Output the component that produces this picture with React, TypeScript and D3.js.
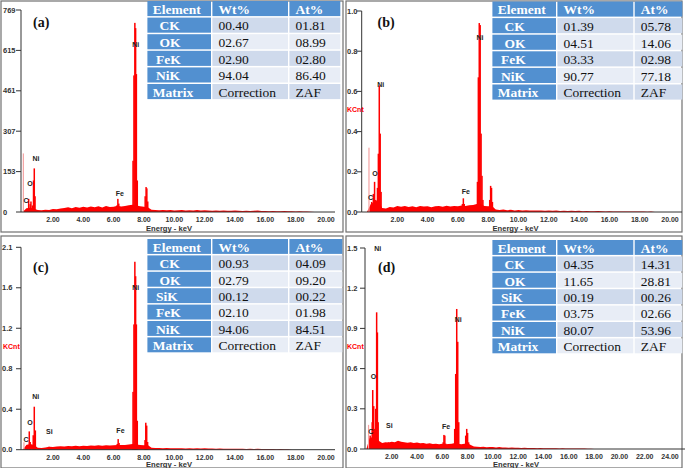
import React, { useEffect, useRef } from "react";
import * as d3 from "d3";

// background counts, one value every 0.25 keV from 0 keV
const bgA = [0, 14, 16, 12, 8, 7, 9, 8, 11, 10, 13, 15, 18, 14, 19, 16, 20, 17, 21, 18, 22, 17, 23, 19, 20, 24, 21, 23, 26, 28, 25, 22, 20, 18, 9, 8, 7, 8, 7, 8, 6, 7, 8, 6, 7, 6, 8, 6, 7, 6, 5, 6, 5, 6, 5, 5, 6, 5, 4, 5, 4, 5, 6, 4, 4, 3, 4, 3, 3, 4, 3, 3, 2, 3, 2, 2, 1, 0];
const bgB = [0, 0.04, 0.05, 0.06, 0.02, 0.018, 0.025, 0.022, 0.03, 0.026, 0.03, 0.025, 0.028, 0.024, 0.03, 0.027, 0.029, 0.024, 0.028, 0.03, 0.026, 0.031, 0.027, 0.03, 0.028, 0.032, 0.03, 0.033, 0.035, 0.04, 0.04, 0.03, 0.028, 0.03, 0.012, 0.01, 0.012, 0.009, 0.011, 0.008, 0.01, 0.008, 0.009, 0.007, 0.008, 0.007, 0.008, 0.006, 0.007, 0.006, 0.007, 0.005, 0.006, 0.005, 0.006, 0.005, 0.006, 0.004, 0.005, 0.004, 0.004, 0.005, 0.004, 0.003, 0.004, 0.003, 0.003, 0.002, 0.003, 0.002, 0.002, 0.003, 0.002, 0.002, 0.001, 0.002, 0];
const bgC = [0, 0.05, 0.06, 0.05, 0.02, 0.018, 0.022, 0.03, 0.028, 0.032, 0.035, 0.033, 0.038, 0.035, 0.04, 0.037, 0.042, 0.039, 0.044, 0.04, 0.045, 0.042, 0.047, 0.043, 0.046, 0.05, 0.048, 0.05, 0.055, 0.06, 0.055, 0.05, 0.045, 0.05, 0.02, 0.018, 0.017, 0.016, 0.018, 0.015, 0.016, 0.014, 0.015, 0.013, 0.014, 0.012, 0.014, 0.013, 0.015, 0.012, 0.013, 0.011, 0.012, 0.01, 0.011, 0.01, 0.011, 0.009, 0.01, 0.008, 0.009, 0.008, 0.009, 0.007, 0.008, 0.006, 0.007, 0.005, 0.006, 0.005, 0.004, 0];
const bgD = [0, 0.08, 0.09, 0.1, 0.06, 0.045, 0.05, 0.048, 0.055, 0.05, 0.062, 0.055, 0.05, 0.046, 0.05, 0.044, 0.048, 0.042, 0.045, 0.04, 0.043, 0.038, 0.04, 0.036, 0.04, 0.035, 0.037, 0.04, 0.045, 0.04, 0.035, 0.04, 0.042, 0.03, 0.018, 0.016, 0.015, 0.016, 0.013, 0.015, 0.014, 0.012, 0.014, 0.011, 0.012, 0.01, 0.011, 0.009, 0.01, 0.008, 0.009, 0.007, 0.008, 0.007, 0.006, 0.007, 0.006, 0.005, 0.006, 0.005, 0.005, 0.004, 0.005, 0.004, 0.004, 0.003, 0.004, 0.003, 0.003, 0.003, 0.002, 0.002, 0];

// peak channels [keV, height]
const peaksA = [[0.4, 50], [0.5, 30], [0.55, 40], [0.65, 25], [0.72, 120], [0.77, 166], [0.82, 60],
  [6.22, 25], [6.28, 50], [6.34, 32],
  [7.28, 195], [7.34, 520], [7.4, 720], [7.45, 700], [7.5, 525], [7.56, 120],
  [8.08, 60], [8.14, 95], [8.19, 90], [8.25, 40]];
const peaksB = [[0.31, 0.05], [0.42, 0.09], [0.5, 0.15], [0.58, 0.06],
  [0.69, 0.12], [0.75, 0.29], [0.81, 0.63], [0.87, 0.39], [0.93, 0.1],
  [6.3, 0.04], [6.36, 0.068], [6.42, 0.04],
  [7.29, 0.15], [7.35, 0.67], [7.41, 0.94], [7.47, 0.93], [7.53, 0.39], [7.59, 0.18], [7.65, 0.06],
  [8.1, 0.06], [8.16, 0.13], [8.22, 0.12], [8.28, 0.05]];
const peaksC = [[0.3, 0.05], [0.44, 0.19], [0.5, 0.08],
  [0.7, 0.15], [0.77, 0.446], [0.84, 0.2],
  [1.74, 0.03],
  [6.24, 0.06], [6.3, 0.11], [6.36, 0.07],
  [7.28, 0.6], [7.34, 1.3], [7.4, 1.95], [7.45, 1.8], [7.5, 1.3], [7.56, 0.3],
  [8.07, 0.1], [8.12, 0.28], [8.18, 0.25], [8.24, 0.08]];
const peaksD = [[0.3, 0.1], [0.46, 0.2], [0.5, 0.44], [0.58, 0.32], [0.66, 0.15],
  [0.74, 0.3], [0.81, 1.02], [0.87, 0.87], [0.93, 0.2],
  [1.74, 0.05],
  [6.07, 0.05], [6.13, 0.105], [6.2, 0.1], [6.27, 0.04],
  [6.98, 0.15], [7.06, 0.56], [7.14, 1.045], [7.22, 0.8], [7.3, 0.2],
  [7.85, 0.1], [7.93, 0.15], [8.0, 0.12], [8.08, 0.05]];

// pale channel near 0 keV
const zeroA = [0.05, 223];
const zeroB = [0.13, 0.32];
const zeroC = [0.09, 0.077];
const zeroD = [0.17, 0.18];

// peak labels [text, keV, height]
const labelsA = [["Ni", 7.46, 636], ["Ni", 0.88, 202], ["O", 0.49, 110], ["C", 0.22, 42], ["Fe", 6.41, 72]];
const labelsB = [["Ni", 7.46, 0.866], ["Ni", 0.9, 0.632], ["O", 0.53, 0.194], ["C", 0.24, 0.07], ["Fe", 6.53, 0.1]];
const labelsC = [["Ni", 7.46, 1.68], ["Ni", 0.86, 0.55], ["O", 0.49, 0.28], ["C", 0.22, 0.104], ["Si", 1.76, 0.184], ["Fe", 6.45, 0.197]];
const labelsD = [["Ni", 0.89, 1.5], ["Ni", 7.26, 0.97], ["O", 0.55, 0.54], ["C", 0.34, 0.127], ["Si", 1.81, 0.179], ["Fe", 6.29, 0.169]];

const yLabelsA = ["0", "153", "307", "461", "615", "769"];
const yLabelsB = ["0.0", "0.2", "0.4", "0.6", "0.8", "1.0"];
const yLabelsC = ["0.0", "0.4", "0.8", "1.2", "1.6", "2.1"];
const yLabelsD = ["0.0", "0.3", "0.6", "0.9", "1.2", "1.5"];
const xLabels20 = ["2.00", "4.00", "6.00", "8.00", "10.00", "12.00", "14.00", "16.00", "18.00", "20.00"];
const xLabels26 = [...xLabels20, "22.00", "24.00", "26.00"];

const tableHeader = ["Element", "Wt%", "At%"];
const elemA = ["CK", "OK", "FeK", "NiK", "Matrix"];
const wtA = ["00.40", "02.67", "02.90", "94.04", "Correction"];
const atA = ["01.81", "08.99", "02.80", "86.40", "ZAF"];
const elemB = ["CK", "OK", "FeK", "NiK", "Matrix"];
const wtB = ["01.39", "04.51", "03.33", "90.77", "Correction"];
const atB = ["05.78", "14.06", "02.98", "77.18", "ZAF"];
const elemC = ["CK", "OK", "SiK", "FeK", "NiK", "Matrix"];
const wtC = ["00.93", "02.79", "00.12", "02.10", "94.06", "Correction"];
const atC = ["04.09", "09.20", "00.22", "01.98", "84.51", "ZAF"];
const elemD = ["CK", "OK", "SiK", "FeK", "NiK", "Matrix"];
const wtD = ["04.35", "11.65", "00.19", "03.75", "80.07", "Correction"];
const atD = ["14.31", "28.81", "00.26", "02.66", "53.96", "ZAF"];

const panels = [
  { tag: "(a)", bg: bgA, peaks: peaksA, zero: zeroA, labels: labelsA, yMax: 769, yLabels: yLabelsA, xMax: 20, xLabels: xLabels20,
    elem: elemA, wt: wtA, at: atA, kcnt: null,
    frame: [1, 1, 343, 232], axisX: 21, xRange: [22.6, 326], yRange: [212, 10], xEnd: 335, tickX: 3, tagPos: [33, 22], titlePos: [169, 228],
    cols: [146.7, 211.7, 288.7, 341], tTop: 1, pitch: 16.6 },
  { tag: "(b)", bg: bgB, peaks: peaksB, zero: zeroB, labels: labelsB, yMax: 1, yLabels: yLabelsB, xMax: 20, xLabels: xLabels20,
    elem: elemB, wt: wtB, at: atB, kcnt: [347, 109],
    frame: [346, 1, 682, 232], axisX: 361.7, xRange: [367, 670], yRange: [212, 11], xEnd: 682, tickX: 347, tagPos: [377.5, 22], titlePos: [515.5, 228],
    cols: [491.7, 556.7, 634, 683], tTop: 1.5, pitch: 16.6 },
  { tag: "(c)", bg: bgC, peaks: peaksC, zero: zeroC, labels: labelsC, yMax: 2.1, yLabels: yLabelsC, xMax: 20, xLabels: xLabels20,
    elem: elemC, wt: wtC, at: atC, kcnt: [3, 346.7],
    frame: [1, 236, 343, 468], axisX: 21, xRange: [22.6, 326], yRange: [449.7, 247.3], xEnd: 335, tickX: 2, tagPos: [33, 267.3], titlePos: [169, 464],
    cols: [146.7, 211.7, 288.7, 343], tTop: 239, pitch: 16.4 },
  { tag: "(d)", bg: bgD, peaks: peaksD, zero: zeroD, labels: labelsD, yMax: 1.5, yLabels: yLabelsD, xMax: 26, xLabels: xLabels26,
    elem: elemD, wt: wtD, at: atD, kcnt: [347, 346.7],
    frame: [346, 236, 682, 468], axisX: 365, xRange: [366.4, 695.3], yRange: [449, 248], xEnd: 685, tickX: 347, tagPos: [378, 267.3], titlePos: [516, 464],
    cols: [491.7, 556.7, 634, 683], tTop: 240, pitch: 16.4 },
];

const RED = "#ff0000";
const BLUE = "#5290d0";
const SANS = "Liberation Sans, Arial, sans-serif";
const SERIF = "Liberation Serif, Times New Roman, serif";

function drawPanel(svg: any, p: any) {
  const g = svg.append("g");
  const x = d3.scaleLinear().domain([0, p.xMax]).range(p.xRange);
  const y = d3.scaleLinear().domain([0, p.yMax]).range(p.yRange);
  const base = y(0);

  g.append("rect")
    .attr("x", p.frame[0]).attr("y", p.frame[1])
    .attr("width", p.frame[2] - p.frame[0]).attr("height", p.frame[3] - p.frame[1])
    .attr("fill", "none").attr("stroke", "#707070").attr("stroke-width", 1.2);

  // spectrum background
  const area = d3.area<number>()
    .x((d, i) => x(i * 0.25))
    .y0(base)
    .y1(d => y(d));
  g.append("path").datum(p.bg).attr("d", area).attr("fill", RED);

  g.append("rect")
    .attr("x", x(p.zero[0]) - 0.6).attr("width", 1.2)
    .attr("y", y(p.zero[1])).attr("height", base - y(p.zero[1]))
    .attr("fill", "#f4a3a3");

  g.selectAll(".peak").data(p.peaks).join("rect").attr("class", "peak")
    .attr("x", (d: number[]) => x(d[0]) - 0.75).attr("width", 1.5)
    .attr("y", (d: number[]) => y(d[1]))
    .attr("height", (d: number[]) => base - y(d[1]))
    .attr("fill", RED);

  // axes
  g.append("line").attr("x1", p.axisX).attr("x2", p.axisX)
    .attr("y1", y(p.yMax)).attr("y2", base).attr("stroke", "#333").attr("stroke-width", 1);
  g.append("line").attr("x1", p.axisX).attr("x2", p.xEnd)
    .attr("y1", base).attr("y2", base).attr("stroke", "#333").attr("stroke-width", 1);

  p.yLabels.forEach((lab: string, i: number) => {
    const ty = y((p.yMax * i) / 5);
    g.append("line").attr("x1", p.axisX - 5).attr("x2", p.axisX).attr("y1", ty).attr("y2", ty)
      .attr("stroke", "#333").attr("stroke-width", 1);
    g.append("text").attr("x", p.tickX).attr("y", ty).attr("dominant-baseline", "central")
      .attr("font-family", SANS).attr("font-size", 7.5).attr("font-weight", "bold").attr("fill", "#333")
      .text(lab);
  });

  g.selectAll(".xlab").data(p.xLabels).join("text").attr("class", "xlab")
    .attr("x", (d: string) => x(+d)).attr("y", base + 7.5)
    .attr("text-anchor", "middle").attr("dominant-baseline", "central")
    .attr("font-family", SANS).attr("font-size", 7).attr("font-weight", "bold").attr("fill", "#333")
    .text((d: string) => d);

  g.append("text").attr("x", p.titlePos[0]).attr("y", p.titlePos[1])
    .attr("text-anchor", "middle").attr("dominant-baseline", "central")
    .attr("font-family", SANS).attr("font-size", 7.6).attr("font-weight", "bold").attr("fill", "#333")
    .text("Energy - keV");

  if (p.kcnt) {
    g.append("text").attr("x", p.kcnt[0]).attr("y", p.kcnt[1]).attr("dominant-baseline", "central")
      .attr("font-family", SANS).attr("font-size", 7).attr("font-weight", "bold").attr("fill", RED)
      .text("KCnt");
  }

  g.selectAll(".plab").data(p.labels).join("text").attr("class", "plab")
    .attr("x", (d: any) => x(d[1])).attr("y", (d: any) => y(d[2]))
    .attr("text-anchor", "middle").attr("dominant-baseline", "central")
    .attr("font-family", SANS).attr("font-size", 7).attr("font-weight", "bold").attr("fill", "#222")
    .text((d: any) => d[0]);

  g.append("text").attr("x", p.tagPos[0]).attr("y", p.tagPos[1]).attr("dominant-baseline", "central")
    .attr("font-family", SERIF).attr("font-size", 14).attr("font-weight", "bold").attr("fill", "#111")
    .text(p.tag);

  // table
  const rows = [tableHeader, ...p.elem.map((e: string, i: number) => [e, p.wt[i], p.at[i]])];
  rows.forEach((r: string[], ri: number) => {
    const ty = p.tTop + ri * p.pitch;
    const h = p.pitch - 1.5;
    r.forEach((txt, c) => {
      const x0 = p.cols[c], x1 = p.cols[c + 1];
      const head = ri === 0 || c === 0;
      g.append("rect").attr("x", x0 + 0.7).attr("y", ty).attr("width", x1 - x0 - 1.4).attr("height", h)
        .attr("fill", head ? BLUE : ri % 2 === 1 ? "#cfdaec" : "#e8edf6");
      let off = 6.7;
      if (c === 0 && ri > 0) off = txt.length === 2 ? 12.7 : txt.length === 3 ? 9.4 : 6;
      if (c === 0 && ri === 0) off = 6;
      g.append("text").attr("x", x0 + off).attr("y", ty + h / 2 + 0.8).attr("dominant-baseline", "central")
        .attr("font-family", SERIF).attr("font-size", 13.5)
        .attr("font-weight", head ? "bold" : "normal")
        .attr("fill", head ? "#fff" : "#111")
        .text(txt);
    });
  });
}

export default function App() {
  const ref = useRef<SVGSVGElement>(null);

  useEffect(() => {
    const svg = d3.select(ref.current);
    svg.selectAll("*").remove();
    svg.append("rect").attr("width", 685).attr("height", 468).attr("fill", "#fff");
    panels.forEach(p => drawPanel(svg, p));
  }, []);

  return <svg ref={ref} width={685} height={468} style={{ position: "absolute", left: 0, top: 0 }} />;
}
